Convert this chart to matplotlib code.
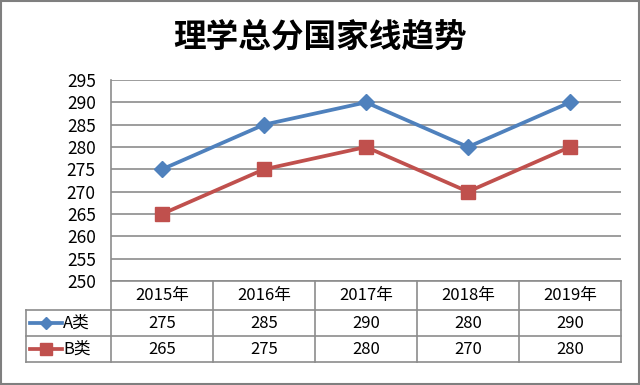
import numpy as np
import matplotlib
matplotlib.use("Agg")
import matplotlib.pyplot as plt
from matplotlib.transforms import blended_transform_factory
from matplotlib.lines import Line2D
from matplotlib.patches import Rectangle

plt.rcParams['font.family'] = ['Noto Sans CJK SC', 'DejaVu Sans']

# 数据
years = ['2015年', '2016年', '2017年', '2018年', '2019年']
a_vals = [275, 285, 290, 280, 290]
b_vals = [265, 275, 280, 270, 280]
series_names = ['A类', 'B类']
y_ticks = list(range(250, 300, 5))

blue = '#4F81BD'
red = '#C0504D'
grid_c = '#8C8C8C'

fig = plt.figure(figsize=(6.4, 3.85), dpi=100)
ax = fig.add_axes([111 / 640, 1 - 281 / 385, 510 / 640, 201 / 385])

x = np.arange(len(years))
ax.plot(x, a_vals, color=blue, lw=2.7, marker='D', ms=8, zorder=3)
ax.plot(x, b_vals, color=red, lw=2.7, marker='s', ms=9.5, zorder=3)

ax.set_xlim(-0.5, len(years) - 0.5)
ax.set_ylim(250, 295)
ax.set_yticks(y_ticks)
ax.set_yticklabels([str(v) for v in y_ticks], fontsize=12.5)
ax.tick_params(axis='y', length=0, pad=11)
ax.set_xticks([])
ax.yaxis.grid(True, color=grid_c, lw=1.2)
ax.set_axisbelow(True)
for s in ['top', 'right', 'bottom']:
    ax.spines[s].set_visible(False)
ax.spines['left'].set_color(grid_c)
ax.spines['left'].set_linewidth(1.2)

# 数据表
tr = blended_transform_factory(ax.transData, ax.transAxes)
h = 201.0
r0, r1, r2, r3 = 0.0, -29 / h, -55 / h, -81 / h
leg_x = (26 - 111) / 102.0 - 0.5
lkw = dict(color=grid_c, lw=1.2, transform=tr, clip_on=False)
fs_tab = 12

# 横线
ax.plot([-0.5, 4.5], [r0, r0], **lkw)
for yy in [r1, r2, r3]:
    ax.plot([leg_x, 4.5], [yy, yy], **lkw)
# 竖线
for i in range(len(years) + 1):
    ax.plot([i - 0.5, i - 0.5], [r0, r3], **lkw)
ax.plot([leg_x, leg_x], [r1, r3], **lkw)

for i, yr in enumerate(years):
    ax.text(i, (r0 + r1) / 2, yr, ha='center', va='center', fontsize=fs_tab,
            transform=tr, clip_on=False)
    ax.text(i, (r1 + r2) / 2, str(a_vals[i]), ha='center', va='center',
            fontsize=fs_tab, transform=tr, clip_on=False)
    ax.text(i, (r2 + r3) / 2, str(b_vals[i]), ha='center', va='center',
            fontsize=fs_tab, transform=tr, clip_on=False)

# 图例
lx0 = leg_x + 4 / 102.0
lx1 = leg_x + 36 / 102.0
for yy, c, m, ms, name in [((r1 + r2) / 2, blue, 'D', 6.5, series_names[0]),
                          ((r2 + r3) / 2, red, 's', 8.5, series_names[1])]:
    ax.add_line(Line2D([lx0, lx1], [yy, yy], color=c, lw=2.7, transform=tr,
                       clip_on=False))
    ax.add_line(Line2D([(lx0 + lx1) / 2], [yy], color=c, marker=m, ms=ms,
                       transform=tr, clip_on=False))
    ax.text(lx1 + 1 / 102.0, yy, name, ha='left', va='center', fontsize=fs_tab,
            transform=tr, clip_on=False)

fig.text(0.5, 1 - 37 / 385, '理学总分国家线趋势', ha='center', va='center',
         fontsize=23.5, fontweight='black')

fig.patches.append(Rectangle((0.002, 0.003), 0.996, 0.994, transform=fig.transFigure,
                             fill=False, edgecolor='#7F7F7F', lw=1.5))

fig.savefig('out.png', dpi=100)
